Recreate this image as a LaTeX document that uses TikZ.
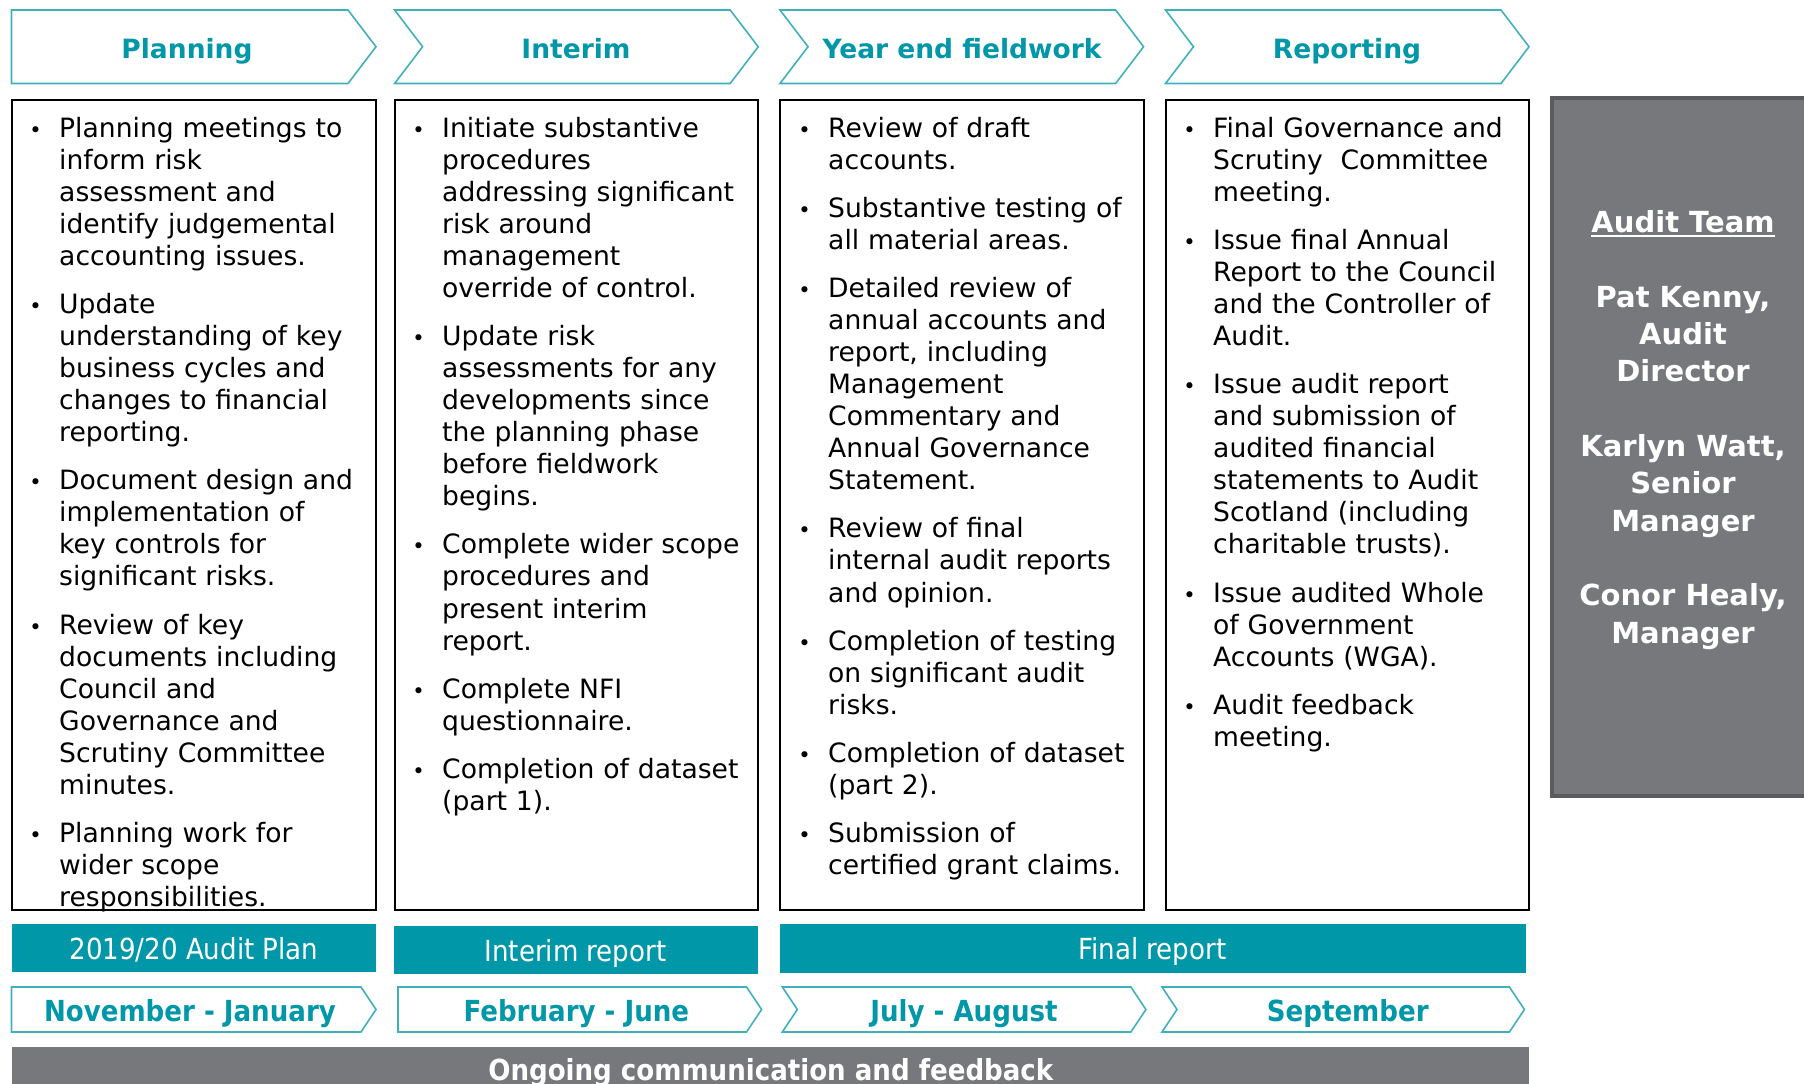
\documentclass[tikz,border=0pt]{standalone}
\usepackage{fontspec}
\setmainfont{DejaVu Sans}
\newfontfamily\condfont{DejaVu Sans Condensed}

\definecolor{auditteal}{HTML}{0097A8}
\definecolor{chevline}{HTML}{3FB0BD}
\definecolor{panelgray}{HTML}{76787B}
\definecolor{paneledge}{HTML}{5A5B5E}

% chevron with a flat left edge: style, left, right, top, bottom, point depth
\newcommand{\flatchev}[6]{%
  \path[#1] (#2,#4) -- ({#3-#6},#4) -- (#3,{(#4+#5)/2}) -- ({#3-#6},#5)
    -- (#2,#5) -- cycle;}
% chevron with a notched left edge
\newcommand{\notchchev}[6]{%
  \path[#1] (#2,#4) -- ({#3-#6},#4) -- (#3,{(#4+#5)/2}) -- ({#3-#6},#5)
    -- (#2,#5) -- ({#2+#6},{(#4+#5)/2}) -- cycle;}

% list bullet hanging left of the text column
\newcommand{\bul}{\leavevmode\llap{\makebox[47.2pt]{\fontsize{21}{21}\selectfont •}}}
% underlined heading with a heavier rule
\newcommand{\heavyul}[1]{\setbox0\hbox{#1}\rlap{\rule[-4.5pt]{\wd0}{2.2pt}}\box0}

\begin{document}
\begin{tikzpicture}[x=1pt,y=-1pt,
  chev/.style={draw=chevline, line width=1.6, fill=white},
  colbox/.style={draw=black, line width=2},
  phasehead/.style={anchor=base, inner sep=0, text=auditteal,
    font=\fontsize{26.5}{30}\selectfont\bfseries},
  coltext/.style={anchor=north west, inner sep=0, text width=340pt, align=left,
    font=\fontsize{26.6}{32.05}\selectfont},
  reportbar/.style={fill=auditteal},
  reportlabel/.style={anchor=base, inner sep=0, text=white,
    font=\condfont\fontsize{29}{32}\selectfont},
  monthlabel/.style={anchor=base, inner sep=0, text=auditteal,
    font=\condfont\fontsize{29}{32}\selectfont\bfseries},
  teambox/.style={fill=panelgray, draw=paneledge, line width=4},
  teamtext/.style={anchor=north, inner sep=0, text=white, align=center,
    font=\fontsize{29}{37.3}\selectfont\bfseries},
  commbar/.style={fill=panelgray},
  commlabel/.style={anchor=base, inner sep=0, text=white,
    font=\condfont\fontsize{29}{32}\selectfont\bfseries}]

\useasboundingbox (0,0) rectangle (1804,1084);
\clip (0,0) rectangle (1804,1084);

% phase headings
\flatchev{chev}{11.5}{376}{10}{83.5}{28}
\notchchev{chev}{394.6}{758.2}{10}{83.5}{28}
\notchchev{chev}{780}{1143.6}{10}{83.5}{28}
\notchchev{chev}{1165.5}{1529}{10}{83.5}{28}
\node[phasehead] (h1) at (187,58) {Planning};
\node[phasehead] (h2) at (576,58) {Interim};
\node[phasehead] (h3) at (962,58) {Year end fieldwork};
\node[phasehead] (h4) at (1347,58) {Reporting};

% activity columns
\draw[colbox] (11.5,100) rectangle (376,910);
\draw[colbox] (394.6,100) rectangle (758.2,910);
\draw[colbox] (780,100) rectangle (1143.6,910);
\draw[colbox] (1165.5,100) rectangle (1529,910);

\node[coltext] (c1) at (59,113) {\rule{0pt}{24pt}%
\bul Planning meetings to\\ inform risk\\ assessment and\\ identify judgemental\\ accounting issues.\\[16.05pt]
\bul Update\\ understanding of key\\ business cycles and\\ changes to financial\\ reporting.\\[16.05pt]
\bul Document design and\\ implementation of\\ key controls for\\ significant risks.\\[16.05pt]
\bul Review of key\\ documents including\\ Council and\\ Governance and\\ Scrutiny Committee\\ minutes.\\[16.05pt]
\bul Planning work for\\ wider scope\\ responsibilities.};

\node[coltext] (c2) at (442,113) {\rule{0pt}{24pt}%
\bul Initiate substantive\\ procedures\\ addressing significant\\ risk around\\ management\\ override of control.\\[16.05pt]
\bul Update risk\\ assessments for any\\ developments since\\ the planning phase\\ before fieldwork\\ begins.\\[16.05pt]
\bul Complete wider scope\\ procedures and\\ present interim\\ report.\\[16.05pt]
\bul Complete NFI\\ questionnaire.\\[16.05pt]
\bul Completion of dataset\\ (part 1).};

\node[coltext] (c3) at (828,113) {\rule{0pt}{24pt}%
\bul Review of draft\\ accounts.\\[16.05pt]
\bul Substantive testing of\\ all material areas.\\[16.05pt]
\bul Detailed review of\\ annual accounts and\\ report, including\\ Management\\ Commentary and\\ Annual Governance\\ Statement.\\[16.05pt]
\bul Review of final\\ internal audit reports\\ and opinion.\\[16.05pt]
\bul Completion of testing\\ on significant audit\\ risks.\\[16.05pt]
\bul Completion of dataset\\ (part 2).\\[16.05pt]
\bul Submission of\\ certified grant claims.};

\node[coltext] (c4) at (1213,113) {\rule{0pt}{24pt}%
\bul Final Governance and\\ Scrutiny\ \ Committee\\ meeting.\\[16.05pt]
\bul Issue final Annual\\ Report to the Council\\ and the Controller of\\ Audit.\\[16.05pt]
\bul Issue audit report\\ and submission of\\ audited financial\\ statements to Audit\\ Scotland (including\\ charitable trusts).\\[16.05pt]
\bul Issue audited Whole\\ of Government\\ Accounts (WGA).\\[16.05pt]
\bul Audit feedback\\ meeting.};

% audit team panel
\draw[teambox] (1552,98) rectangle (1840,796);
\node[teamtext] (team) at (1683,207.5) {\rule{0pt}{25pt}\heavyul{Audit Team}\\[37.3pt]
Pat Kenny,\\ Audit\\ Director\\[37.3pt]
Karlyn Watt,\\ Senior\\ Manager\\[37.3pt]
Conor Healy,\\ Manager};

% report outputs
\fill[reportbar] (11.5,924) rectangle (376,972);
\fill[reportbar] (393.5,925.5) rectangle (758,973.5);
\fill[reportbar] (780,923.5) rectangle (1525.5,972.5);
\node[reportlabel] (r1) at (194,959.5) {2019/20 Audit Plan};
\node[reportlabel] (r2) at (575.5,961) {Interim report};
\node[reportlabel] (r3) at (1152.5,959.5) {Final report};

% timing
\flatchev{chev}{11.5}{376}{987}{1032}{15}
\flatchev{chev}{398}{761.6}{987}{1032}{15}
\notchchev{chev}{782.3}{1145.9}{987}{1032}{15}
\notchchev{chev}{1162}{1524.4}{987}{1032}{15}
\node[monthlabel] (m1) at (190,1021.8) {November - January};
\node[monthlabel] (m2) at (576.4,1021.8) {February - June};
\node[monthlabel] (m3) at (964,1021.8) {July - August};
\node[monthlabel] (m4) at (1347.8,1021.8) {September};

% communication band
\fill[commbar] (11.5,1047) rectangle (1529,1110);
\node[commlabel] (comm) at (770.8,1080.5) {Ongoing communication and feedback};
\end{tikzpicture}
\end{document}
